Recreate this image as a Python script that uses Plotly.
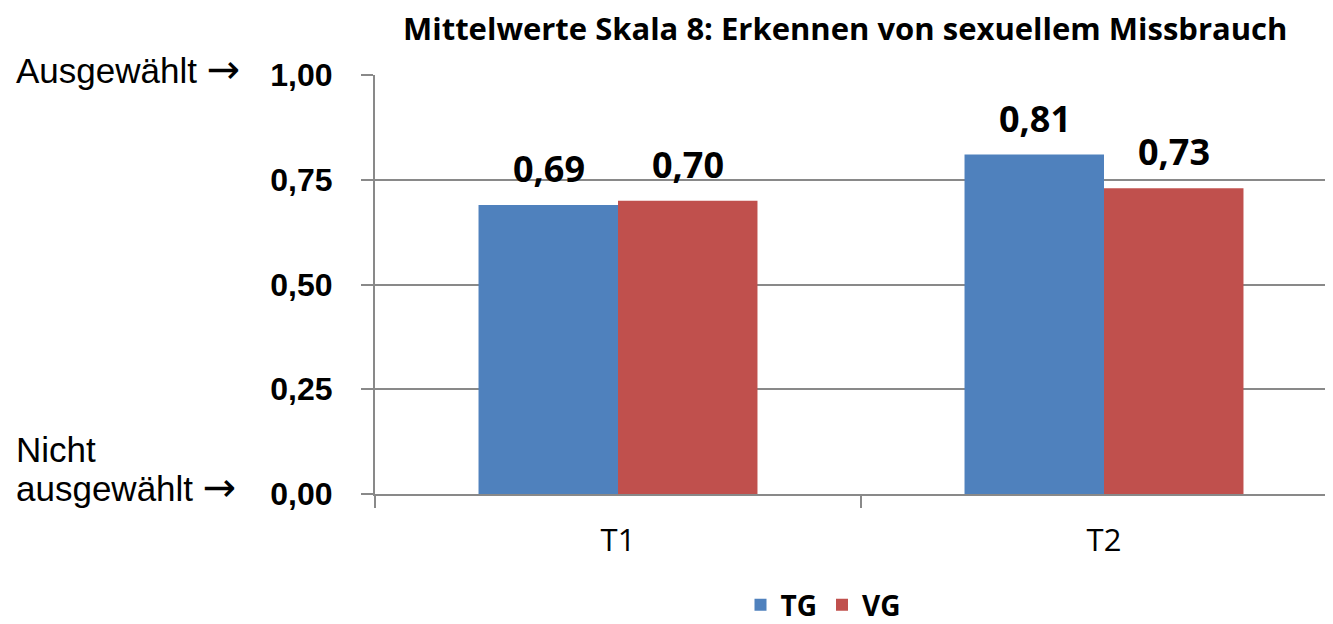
import plotly.graph_objects as go

categories = ["T1", "T2"]
tg_values = [0.69, 0.81]
vg_values = [0.70, 0.73]
series_names = ["TG", "VG"]
series_colors = ["#4F81BD", "#C0504D"]
y_tickvals = [0, 0.25, 0.5, 0.75, 1.0]
y_ticktext = ["0,00", "0,25", "0,50", "0,75", "1,00"]
title_text = "Mittelwerte Skala 8: Erkennen von sexuellem Missbrauch"

# the page body has an 8px margin: shift the whole figure up/left by 8px
OFF = 8
W, H = 1333 - OFF, 624 - OFF
L, R, T, B = 375 - OFF, 0, 75 - OFF, 130
plot_w = W - L - R
plot_h = H - T - B
cat_px = 486.0
x_hi = -0.5 + plot_w / cat_px

GRAY = "#898989"
ARROW = '<span style="font-family:DejaVu Sans;font-size:40px">→</span>'

fig = go.Figure()
for name, vals, col in zip(series_names, [tg_values, vg_values], series_colors):
    fig.add_trace(go.Bar(
        x=categories, y=vals, name=name,
        marker=dict(color=col, line=dict(width=0)),
    ))

annotations = []
for i, (name, vals) in enumerate(zip(series_names, [tg_values, vg_values])):
    offs = -0.143 if i == 0 else 0.143
    for j, v in enumerate(vals):
        annotations.append(dict(
            x=j + offs, y=v, xref="x", yref="y",
            text=f"{v:.2f}".replace(".", ","),
            showarrow=False, yanchor="bottom", yshift=10,
            font=dict(family="Open Sans", size=36, color="black", weight="bold"),
        ))

# reference (window) pixel -> paper coordinates
def px_x(px):
    return (px - OFF - L) / plot_w

def px_y(py):
    return (H - B - (py - OFF)) / plot_h

annotations += [
    dict(x=px_x(845), y=px_y(28), xref="paper", yref="paper", text=f"<b>{title_text}</b>",
         showarrow=False, xanchor="center", yanchor="middle",
         font=dict(family="Open Sans", size=31, color="black")),
    dict(x=px_x(14), y=px_y(69), xref="paper", yref="paper", text="Ausgewählt " + ARROW,
         showarrow=False, xanchor="left", yanchor="middle",
         font=dict(family="Liberation Sans", size=35, color="black")),
    dict(x=px_x(14), y=px_y(449), xref="paper", yref="paper", text="Nicht",
         showarrow=False, xanchor="left", yanchor="middle",
         font=dict(family="Liberation Sans", size=35, color="black")),
    dict(x=px_x(14), y=px_y(487), xref="paper", yref="paper", text="ausgewählt " + ARROW,
         showarrow=False, xanchor="left", yanchor="middle",
         font=dict(family="Liberation Sans", size=35, color="black")),
]

fig.update_layout(
    width=W, height=H,
    margin=dict(l=L, r=R, t=T, b=B, pad=0, autoexpand=False),
    paper_bgcolor="white", plot_bgcolor="white",
    barmode="group", bargap=0.426, bargroupgap=0,
    showlegend=True,
    legend=dict(orientation="h", x=px_x(823), y=px_y(605), xanchor="center", yanchor="middle",
                font=dict(family="Open Sans", size=28, color="black", weight="bold"),
                itemwidth=30, traceorder="normal", bgcolor="rgba(0,0,0,0)"),
    annotations=annotations,
    xaxis=dict(
        range=[-0.5, x_hi], showgrid=False, zeroline=False, automargin=False,
        showline=True, linecolor=GRAY, linewidth=2,
        ticks="outside", tickson="boundaries", ticklen=12, tickwidth=2, tickcolor=GRAY,
        tickfont=dict(family="Open Sans", size=31, color="black"),
        ticklabelstandoff=18,
    ),
    yaxis=dict(
        range=[0, 1], tickvals=y_tickvals, ticktext=y_ticktext, automargin=False,
        showgrid=True, gridcolor=GRAY, gridwidth=2, zeroline=False,
        showline=True, linecolor=GRAY, linewidth=2,
        ticks="outside", ticklen=12, tickwidth=2, tickcolor=GRAY,
        tickfont=dict(family="Liberation Sans", size=32, color="black", weight="bold"),
        ticklabelstandoff=22,
    ),
)

fig.write_html("out.html")
